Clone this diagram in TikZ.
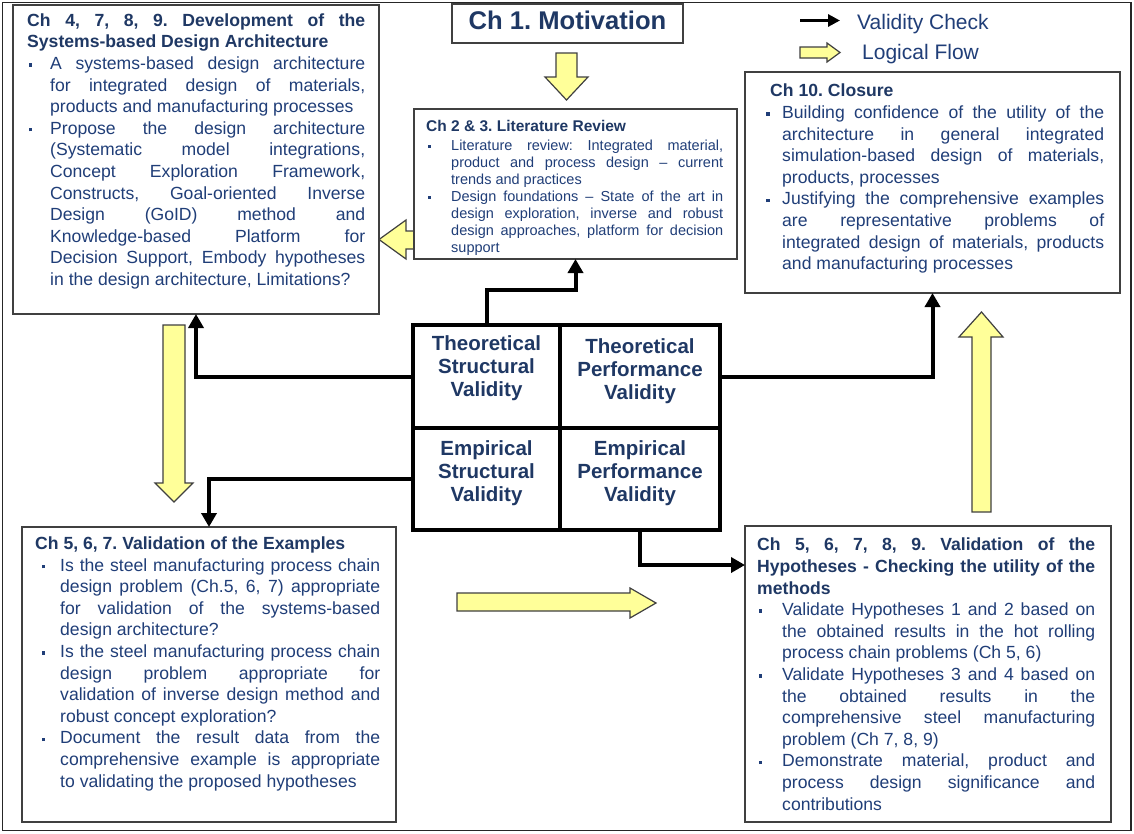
\documentclass[tikz,border=0pt]{standalone}
\usepackage{fontspec}
\setmainfont{Liberation Sans}
\usetikzlibrary{arrows.meta,calc}
\frenchspacing

\definecolor{navy}{HTML}{1F3864}
\definecolor{bodyblue}{HTML}{203E78}
\definecolor{flowfill}{HTML}{FFFF99}
\definecolor{edgegray}{HTML}{404040}

% small square bullet and a hanging bullet paragraph
\newcommand{\bsq}{\rule[0.16em]{0.2em}{0.2em}}
\newcommand{\bitem}[3]{\par{\leftskip=#1\relax\noindent\hspace*{-#1}\makebox[#1][l]{\hspace*{#2}\bsq}#3\par}}
\newcommand{\boxsetup}{\tolerance=10000\hbadness=10000\hyphenpenalty=10000\exhyphenpenalty=10000\parindent=0pt\frenchspacing}

\begin{document}
\begin{tikzpicture}[x=1pt,y=-1pt,
  box/.style={draw=edgegray,line width=1.2pt,fill=white,inner sep=0pt,outer sep=0pt},
  cell/.style={draw=black,line width=4pt,inner sep=0pt,outer sep=0pt},
  txt/.style={anchor=north west,inner sep=0pt,align=justify,text=bodyblue,
              font=\fontsize{17.6}{21.6}\selectfont\boxsetup},
  smalltxt/.style={txt,font=\fontsize{14.5}{17}\selectfont\boxsetup},
  celltxt/.style={inner sep=0pt,align=center,text=navy,font=\fontsize{20.5}{23}\selectfont\bfseries},
  vc/.style={line width=4pt,line join=miter,-{Triangle[length=14pt,width=15pt]}},
  flow/.style={fill=flowfill,draw=edgegray,line width=1.2pt,line join=miter},
]
\useasboundingbox (0,0) rectangle (1134,833);
\fill[white] (0,0) rectangle (1134,833);

% block arrows of the logical flow (drawn below the boxes)
\filldraw[flow] (556,53) -- (577,53) -- (577,77) -- (588,77) -- (566.5,100) -- (545,77) -- (556,77) -- cycle;
\filldraw[flow] (414,231) -- (406,231) -- (406,220) -- (379,239.5) -- (406,259) -- (406,249) -- (414,249) -- cycle;
\filldraw[flow] (163,325) -- (185,325) -- (185,483) -- (193,483) -- (174,502) -- (155,483) -- (163,483) -- cycle;
\filldraw[flow] (457,593) -- (630,593) -- (630,588) -- (656,603) -- (630,618) -- (630,611) -- (457,611) -- cycle;
\filldraw[flow] (972,512) -- (972,337) -- (959,337) -- (981.5,312) -- (1003,337) -- (991,337) -- (991,512) -- cycle;

% chapter boxes
\node[box,minimum width=366pt,minimum height=309pt] (dev) at (196,159.5) {};
\node[box,minimum width=231pt,minimum height=39pt] (mot) at (567.5,23.5) {};
\node[box,minimum width=323pt,minimum height=150pt] (lit) at (575.5,184) {};
\node[box,minimum width=375pt,minimum height=221pt] (clo) at (932.5,182.5) {};
\node[box,minimum width=374pt,minimum height=295pt] (ex) at (209,674.5) {};
\node[box,minimum width=366pt,minimum height=296pt] (hyp) at (928,674) {};

\node[anchor=base,inner sep=0pt,text=navy,font=\fontsize{25.6}{28}\selectfont\bfseries] (motT) at (567.5,29) {Ch 1. Motivation};

\node[txt,text width=338pt] (devT) at (27,12) {%
\noindent{\bfseries\color{navy}\rule{0pt}{14pt}Ch 4, 7, 8, 9. Development of the\linebreak Systems-based Design Architecture}%
\bitem{23pt}{1.5pt}{A systems-based design architecture\linebreak for integrated design of materials,\linebreak products and manufacturing processes}%
\bitem{23pt}{1.5pt}{Propose the design architecture\linebreak (Systematic model integrations,\linebreak Concept Exploration Framework,\linebreak Constructs, Goal-oriented Inverse\linebreak Design (GoID) method and\linebreak Knowledge-based Platform for\linebreak Decision Support, Embody hypotheses\linebreak in the design architecture, Limitations?}};

\node[smalltxt,text width=297pt] (litT) at (426,119.7) {%
\noindent{\fontsize{15.5}{17}\selectfont\bfseries\color{navy}\rule{0pt}{12pt}Ch 2 \& 3. Literature Review}\par\vspace{1.3pt}%
\bitem{25pt}{2pt}{Literature review: Integrated material,\linebreak product and process design – current\linebreak trends and practices}%
\bitem{25pt}{2pt}{Design foundations – State of the art in\linebreak design exploration, inverse and robust\linebreak design approaches, platform for decision\linebreak support}};

\node[txt,text width=338pt] (cloT) at (766,82.7) {%
\noindent{\bfseries\color{navy}\rule{0pt}{14pt}\hspace*{4pt}Ch 10. Closure}%
\bitem{16pt}{0pt}{Building confidence of the utility of the\linebreak architecture in general integrated\linebreak simulation-based design of materials,\linebreak products, processes}%
\bitem{16pt}{0pt}{Justifying the comprehensive examples\linebreak are representative problems of\linebreak integrated design of materials, products\linebreak and manufacturing processes}};

\node[txt,text width=345pt] (exT) at (35,535.3) {%
\noindent{\bfseries\color{navy}\rule{0pt}{14pt}Ch 5, 6, 7. Validation of the Examples}%
\bitem{25pt}{6.5pt}{Is the steel manufacturing process chain\linebreak design problem (Ch.5, 6, 7) appropriate\linebreak for validation of the systems-based\linebreak design architecture?}%
\bitem{25pt}{6.5pt}{Is the steel manufacturing process chain\linebreak design problem appropriate for\linebreak validation of inverse design method and\linebreak robust concept exploration?}%
\bitem{25pt}{6.5pt}{Document the result data from the\linebreak comprehensive example is appropriate\linebreak to validating the proposed hypotheses}};

\node[txt,text width=338pt] (hypT) at (757,536.7) {%
\noindent{\bfseries\color{navy}\rule{0pt}{14pt}Ch 5, 6, 7, 8, 9. Validation of the\linebreak Hypotheses - Checking the utility of the\linebreak methods}%
\bitem{25pt}{1.5pt}{Validate Hypotheses 1 and 2 based on\linebreak the obtained results in the hot rolling\linebreak process chain problems (Ch 5, 6)}%
\bitem{25pt}{1.5pt}{Validate Hypotheses 3 and 4 based on\linebreak the obtained results in the\linebreak comprehensive steel manufacturing\linebreak problem (Ch 7, 8, 9)}%
\bitem{25pt}{1.5pt}{Demonstrate material, product and\linebreak process design significance and\linebreak contributions}};

% validity grid
\node[cell,minimum width=147pt,minimum height=103pt] (tsv) at (486.5,376.5) {};
\node[cell,minimum width=160pt,minimum height=103pt] (tpv) at (640,376.5) {};
\node[cell,minimum width=147pt,minimum height=102pt] (esv) at (486.5,479) {};
\node[cell,minimum width=160pt,minimum height=102pt] (epv) at (640,479) {};
\node[celltxt] (tsvT) at (486.5,367.75) {Theoretical\\Structural\\Validity};
\node[celltxt] (tpvT) at (640,371) {Theoretical\\Performance\\Validity};
\node[celltxt] (esvT) at (486.5,472.75) {Empirical\\Structural\\Validity};
\node[celltxt] (epvT) at (640,473) {Empirical\\Performance\\Validity};

% validity checks
\draw[vc] (tsv.west) -| (dev.south);
\draw[vc] (tsv.north) -- ++(0,-35) -| (lit.south);
\draw[vc] (tpv.east) -| (clo.south);
\draw[vc] (esv.west) -| (ex.north);
\draw[vc] (epv.south) |- ([yshift=-39pt]hyp.north west);

% legend
\coordinate (lgA) at (800,20.5);
\coordinate (lgB) at (840,20.5);
\draw[line width=3.5pt,-{Triangle[length=12pt,width=12pt]}] (lgA) -- (lgB);
\filldraw[flow] (800,47) -- (827,47) -- (827,43) -- (840,52.5) -- (827,62) -- (827,58) -- (800,58) -- cycle;
\node[anchor=base west,inner sep=0pt,text=bodyblue,font=\fontsize{21}{24}\selectfont] (lgVC) at (857,29.3) {Validity Check};
\node[anchor=base west,inner sep=0pt,text=bodyblue,font=\fontsize{21}{24}\selectfont] (lgLF) at (862,59.3) {Logical Flow};

% outer frame
\draw[line width=1.5pt,draw=black!85] (2.5,2.5) rectangle (1131,830.5);
\end{tikzpicture}
\end{document}
